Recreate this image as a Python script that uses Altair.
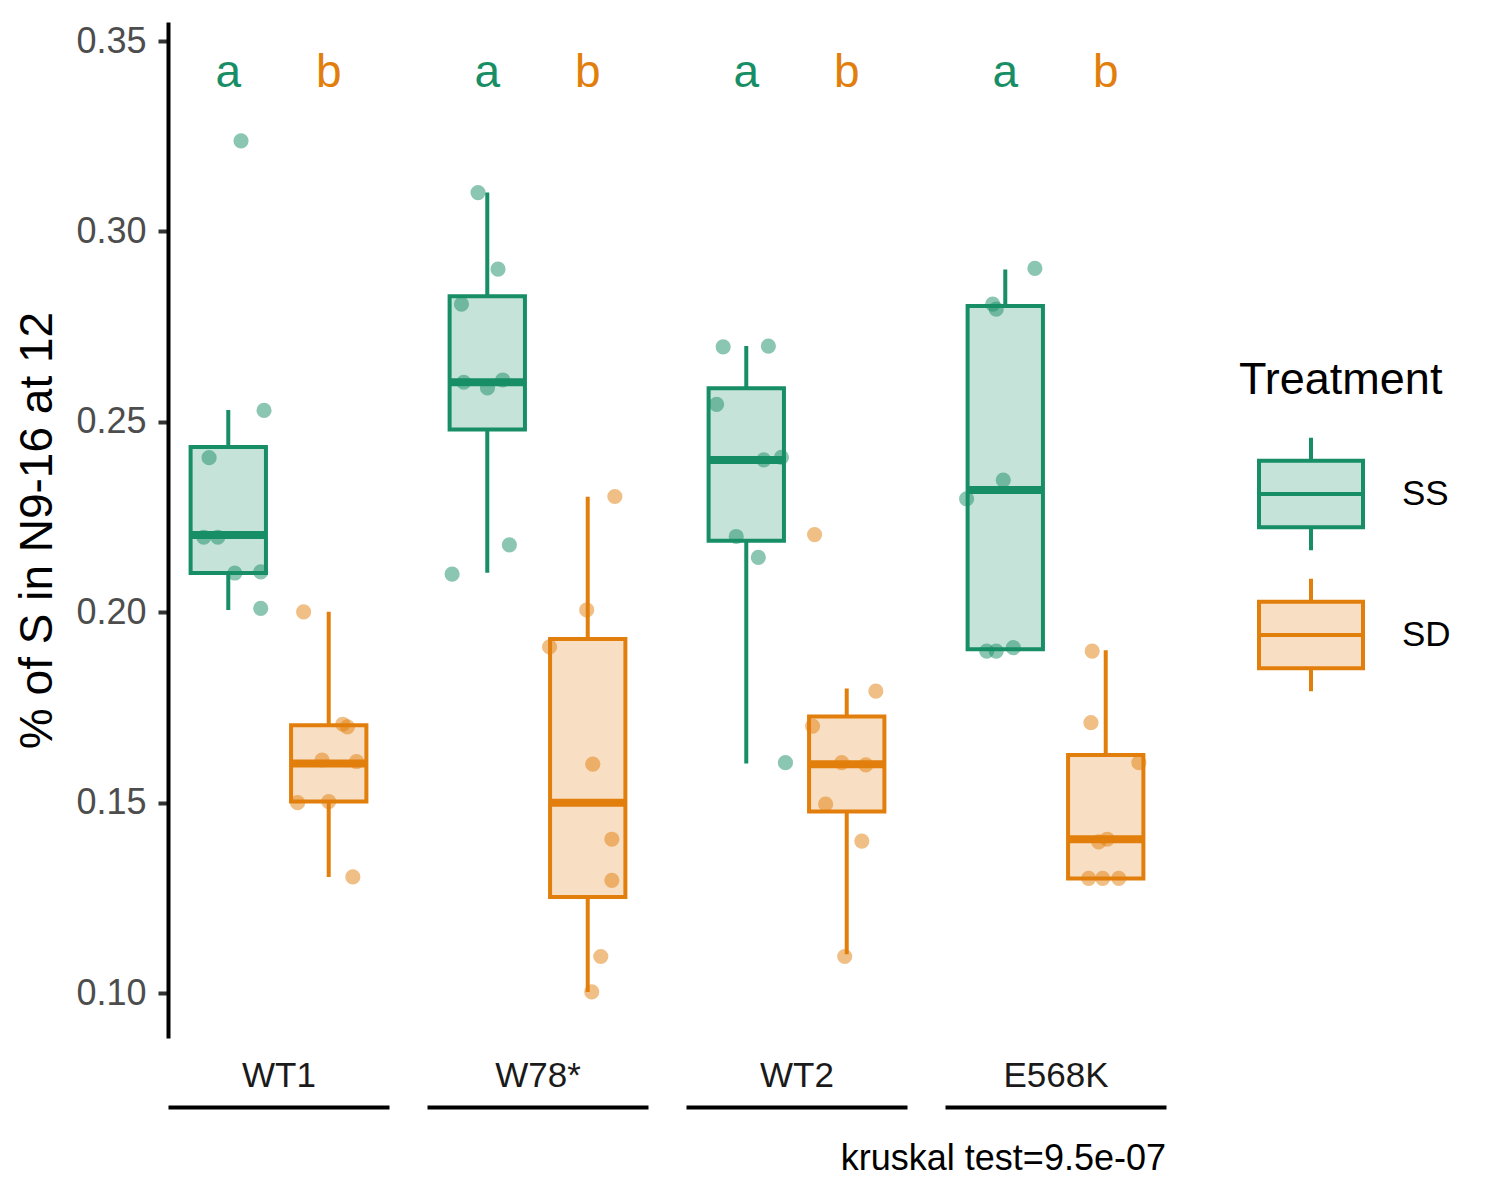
import altair as alt
import pandas as pd

# ---------------- data ----------------
genotypes = ["WT1", "W78*", "WT2", "E568K"]
treatments = ["SS", "SD"]
treat_idx = [1, 2]
treat_letters = ["a", "b"]
letter_y = [0.338, 0.338]

dark_colors = ["#178E66", "#E27F0C"]
light_colors = ["#C6E3D9", "#F8DEC2"]

# box summaries (order: WT1-SS, WT1-SD, W78*-SS, W78*-SD, WT2-SS, WT2-SD, E568K-SS, E568K-SD)
box_genotype = ["WT1", "WT1", "W78*", "W78*", "WT2", "WT2", "E568K", "E568K"]
box_treatment = ["SS", "SD", "SS", "SD", "SS", "SD", "SS", "SD"]
box_lo = [0.2006, 0.1305, 0.2104, 0.1003, 0.1603, 0.1102, 0.1903, 0.1301]
box_q1 = [0.2103, 0.1503, 0.2480, 0.1252, 0.2188, 0.1477, 0.1903, 0.1301]
box_med = [0.2203, 0.1603, 0.2604, 0.1500, 0.2400, 0.1601, 0.2321, 0.1404]
box_q3 = [0.2434, 0.1703, 0.2830, 0.1930, 0.2588, 0.1726, 0.2804, 0.1625]
box_hi = [0.2531, 0.2001, 0.3102, 0.2303, 0.2699, 0.1800, 0.2900, 0.1900]

wt1_ss_val = [0.3238, 0.2530, 0.2406, 0.2197, 0.2197, 0.2103, 0.2106, 0.2010]
wt1_ss_jit = [0.127, 0.356, -0.191, -0.244, -0.104, 0.065, 0.323, 0.323]
wt1_sd_val = [0.2001, 0.1706, 0.1699, 0.1612, 0.1608, 0.1500, 0.1503, 0.1305]
wt1_sd_jit = [-0.25, 0.14, 0.186, -0.066, 0.276, -0.31, 0.0, 0.24]
w78_ss_val = [0.3102, 0.2901, 0.2809, 0.2604, 0.2589, 0.2610, 0.2177, 0.2100]
w78_ss_jit = [-0.092, 0.107, -0.257, -0.234, 0.002, 0.154, 0.22, -0.35]
w78_sd_val = [0.2304, 0.2006, 0.1909, 0.1601, 0.1404, 0.1296, 0.1096, 0.1003]
w78_sd_jit = [0.27, -0.01, -0.38, 0.05, 0.24, 0.24, 0.13, 0.04]
wt2_ss_val = [0.2697, 0.2699, 0.2546, 0.2400, 0.2407, 0.2199, 0.2144, 0.1605]
wt2_ss_jit = [-0.23, 0.22, -0.295, 0.174, 0.35, -0.1, 0.12, 0.39]
wt2_sd_val = [0.2204, 0.1793, 0.1701, 0.1605, 0.1599, 0.1496, 0.1399, 0.1096]
wt2_sd_jit = [-0.32, 0.29, -0.34, -0.05, 0.19, -0.21, 0.15, -0.02]
e568k_ss_val = [0.2903, 0.2809, 0.2796, 0.2347, 0.2298, 0.1898, 0.1898, 0.1907]
e568k_ss_jit = [0.295, -0.125, -0.09, -0.02, -0.385, -0.185, -0.09, 0.08]
e568k_sd_val = [0.1898, 0.1710, 0.1605, 0.1397, 0.1404, 0.1301, 0.1301, 0.1301]
e568k_sd_jit = [-0.135, -0.147, 0.33, -0.07, 0.015, -0.17, -0.03, 0.13]

y_ticks = [0.10, 0.15, 0.20, 0.25, 0.30, 0.35]
y_domain = [0.0882, 0.355]
x_domain = [0.4, 2.6]
y_title = "% of S in N9-16 at 12"
caption = "kruskal test=9.5e-07"

# ---------------- tables ----------------
idx_of = dict(zip(treatments, treat_idx))
box_df = pd.DataFrame({
    "genotype": box_genotype, "treatment": box_treatment,
    "lo": box_lo, "q1": box_q1, "med": box_med, "q3": box_q3, "hi": box_hi,
})
box_df["idx"] = box_df["treatment"].map(idx_of)

groups = [
    ("WT1", "SS", wt1_ss_val, wt1_ss_jit), ("WT1", "SD", wt1_sd_val, wt1_sd_jit),
    ("W78*", "SS", w78_ss_val, w78_ss_jit), ("W78*", "SD", w78_sd_val, w78_sd_jit),
    ("WT2", "SS", wt2_ss_val, wt2_ss_jit), ("WT2", "SD", wt2_sd_val, wt2_sd_jit),
    ("E568K", "SS", e568k_ss_val, e568k_ss_jit), ("E568K", "SD", e568k_sd_val, e568k_sd_jit),
]
rows = []
for g, t, vals, jits in groups:
    for v, j in zip(vals, jits):
        rows.append({"genotype": g, "treatment": t, "idx": idx_of[t], "jit": j, "value": v})
pts_df = pd.DataFrame(rows)

let_df = pd.DataFrame({"treatment": treatments, "idx": treat_idx,
                       "letter": treat_letters, "ly": letter_y})

FONT = "Liberation Sans"
LW = 4
xs = alt.Scale(domain=x_domain, nice=False, zero=False)
ys = alt.Scale(domain=y_domain, nice=False, zero=False)
dark = alt.Scale(domain=treatments, range=dark_colors)
light = alt.Scale(domain=treatments, range=light_colors)
# same mapping, listed in reverse so that this (legend-less) scale stays separate
dark_pts = alt.Scale(domain=treatments[::-1], range=dark_colors[::-1])

legend_symbol = "M-1,-0.64H1V0.64H-1Z M-1,0H1 M0,-0.64V-1.08 M0,0.64V1.08"
leg = alt.Legend(
    title="Treatment", orient="none", legendX=1071, legendY=336,
    titleFontSize=45, titleFontWeight="normal", titleColor="black", titleFont=FONT,
    titleLimit=500, labelLimit=300,
    labelFontSize=35, labelColor="black", labelFont=FONT,
    symbolType=legend_symbol, symbolSize=10816, symbolStrokeWidth=LW,
    rowPadding=11, titlePadding=37, labelOffset=37, symbolOffset=18,
)


def panel(g, first):
    if first:
        yax = alt.Axis(values=y_ticks, format=".2f", title=y_title, grid=False,
                       labelFontSize=36, labelColor="#4D4D4D", labelFont=FONT, labelPadding=12,
                       tickSize=10, tickWidth=LW, tickColor="#333333",
                       domainWidth=LW, domainColor="black",
                       titleFontSize=46, titleFontWeight="normal", titleColor="black",
                       titleFont=FONT, titlePadding=14)
    else:
        yax = None
    xax = alt.Axis(title=g, labels=False, ticks=False, grid=False,
                   domain=True, domainWidth=LW, domainColor="black", offset=69,
                   titleY=-32, titleBaseline="middle", titleFontSize=35,
                   titleFontWeight="normal", titleColor="#1A1A1A", titleFont=FONT)

    bx = (alt.Chart(box_df)
          .transform_filter(alt.datum.genotype == g)
          .transform_calculate(x_lo="datum.idx - 0.375", x_hi="datum.idx + 0.375"))

    whisker = bx.mark_rule(strokeWidth=LW).encode(
        x=alt.X("idx:Q", scale=xs, axis=xax),
        y=alt.Y("lo:Q", scale=ys, axis=yax), y2="hi:Q",
        stroke=alt.Stroke("treatment:N", scale=dark, legend=leg),
    )
    box = bx.mark_bar(strokeWidth=LW).encode(
        x=alt.X("x_lo:Q", scale=xs, axis=xax), x2="x_hi:Q",
        y=alt.Y("q1:Q", scale=ys, axis=yax), y2="q3:Q",
        fill=alt.Fill("treatment:N", scale=light, legend=leg),
        stroke=alt.Stroke("treatment:N", scale=dark, legend=leg),
    )
    median = bx.mark_rule(strokeWidth=2 * LW).encode(
        x=alt.X("x_lo:Q", scale=xs, axis=xax), x2="x_hi:Q",
        y=alt.Y("med:Q", scale=ys, axis=yax),
        stroke=alt.Stroke("treatment:N", scale=dark, legend=leg),
    )
    points = (alt.Chart(pts_df)
              .transform_filter(alt.datum.genotype == g)
              .transform_calculate(jx="datum.idx + datum.jit")
              .mark_circle(size=230, opacity=0.5)
              .encode(
                  x=alt.X("jx:Q", scale=xs, axis=xax),
                  y=alt.Y("value:Q", scale=ys, axis=yax),
                  color=alt.Color("treatment:N", scale=dark_pts, legend=None),
              ))
    letters = (alt.Chart(let_df)
               .mark_text(fontSize=46, font=FONT, baseline="alphabetic", align="center")
               .encode(
                   x=alt.X("idx:Q", scale=xs, axis=xax),
                   y=alt.Y("ly:Q", scale=ys, axis=yax),
                   text="letter:N",
                   color=alt.Color("treatment:N", scale=dark_pts, legend=None),
               ))
    ch = alt.layer(whisker, box, median, points, letters).properties(width=221, height=1016)
    if g == genotypes[-1]:
        ch = ch.properties(title=alt.TitleParams(
            caption, orient="bottom", anchor="end", frame="group",
            fontSize=36, fontWeight="normal", color="black", font=FONT, offset=35))
    return ch


chart = (alt.hconcat(*[panel(g, i == 0) for i, g in enumerate(genotypes)],
                     spacing=38, bounds="flush")
         .resolve_scale(color="shared", fill="shared", stroke="shared")
         .properties(padding={"left": 6, "top": 14, "right": 5, "bottom": 5})
         .configure(font=FONT, background="white")
         .configure_view(strokeWidth=0))

chart.save("out.html", embed_options={"renderer": "svg", "actions": False})
